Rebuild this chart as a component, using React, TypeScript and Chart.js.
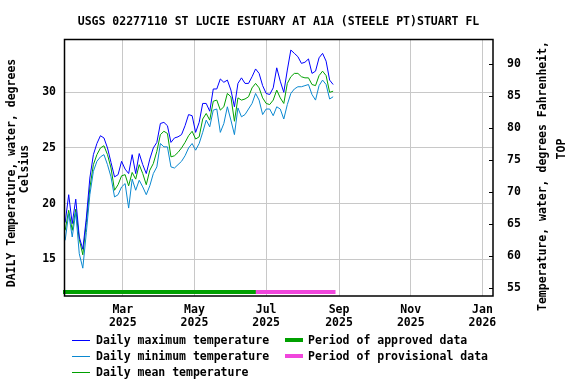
import React, { useEffect, useRef } from 'react';
import { Chart, registerables } from 'chart.js';

Chart.register(...registerables);

const FONT = '"DejaVu Sans Mono", "Liberation Mono", monospace';

const chartTitle = 'USGS 02277110 ST LUCIE ESTUARY AT A1A (STEELE PT)STUART FL';
const leftAxisTitle = ['DAILY Temperature, water, degrees', 'Celsius'];
const rightAxisTitle = ['Temperature, water, degrees Fahrenheit,', 'TOP'];

const axisStart = '2025-01-10';
const axisEnd = '2026-01-10';

const monthTicks = ['2025-03-01', '2025-05-01', '2025-07-01', '2025-09-01', '2025-11-01', '2026-01-01'];
const monthTickLabels = [
  ['Mar', '2025'],
  ['May', '2025'],
  ['Jul', '2025'],
  ['Sep', '2025'],
  ['Nov', '2025'],
  ['Jan', '2026'],
];
const celsiusTicks = [15, 20, 25, 30];
const fahrenheitTicks = [55, 60, 65, 70, 75, 80, 85, 90];

const sampleDates = [
  '2025-01-11', '2025-01-14', '2025-01-17', '2025-01-20', '2025-01-23', '2025-01-26', '2025-01-29',
  '2025-02-01', '2025-02-04', '2025-02-07', '2025-02-10', '2025-02-13', '2025-02-16', '2025-02-19',
  '2025-02-22', '2025-02-25', '2025-02-28', '2025-03-03', '2025-03-06', '2025-03-09', '2025-03-12',
  '2025-03-15', '2025-03-18', '2025-03-21', '2025-03-24', '2025-03-27', '2025-03-30', '2025-04-02',
  '2025-04-05', '2025-04-08', '2025-04-11', '2025-04-14', '2025-04-17', '2025-04-20', '2025-04-23',
  '2025-04-26', '2025-04-29', '2025-05-02', '2025-05-05', '2025-05-08', '2025-05-11', '2025-05-14',
  '2025-05-17', '2025-05-20', '2025-05-23', '2025-05-26', '2025-05-29', '2025-06-01', '2025-06-04',
  '2025-06-07', '2025-06-10', '2025-06-13', '2025-06-16', '2025-06-19', '2025-06-22', '2025-06-25',
  '2025-06-28', '2025-07-01', '2025-07-04', '2025-07-07', '2025-07-10', '2025-07-13', '2025-07-16',
  '2025-07-19', '2025-07-22', '2025-07-25', '2025-07-28', '2025-07-31', '2025-08-03', '2025-08-06',
  '2025-08-09', '2025-08-12', '2025-08-15', '2025-08-18', '2025-08-21', '2025-08-24', '2025-08-27',
];

const dailyMax = [
  18.3, 20.8, 18.2, 20.4, 17.0, 15.9, 18.7, 22.3, 24.4, 25.4,
  26.1, 25.9, 25.0, 23.7, 22.4, 22.6, 23.8, 23.1, 22.7, 24.4,
  22.7, 24.5, 23.5, 22.7, 24.0, 25.0, 25.5, 27.2, 27.3, 27.0,
  25.5, 25.9, 26.0, 26.2, 27.0, 28.0, 27.9, 26.4, 27.3, 29.0,
  29.0, 28.3, 30.3, 30.3, 31.2, 30.9, 31.1, 30.2, 28.7, 30.8,
  31.3, 30.8, 30.8, 31.4, 32.1, 31.7, 30.6, 29.9, 29.8, 30.4,
  32.2, 31.0, 30.0, 32.0, 33.8, 33.5, 33.2, 32.6, 32.7, 33.0,
  31.7, 31.9, 33.1, 33.5, 32.8, 31.1, 30.7,
];

const dailyMin = [
  16.7, 19.1, 17.0, 19.2, 15.5, 14.2, 17.4, 20.8, 22.9, 23.8,
  24.2, 24.4, 23.5, 22.4, 20.6, 20.8, 21.5, 21.8, 19.6, 22.2,
  21.2, 22.1, 21.5, 20.8, 21.6, 22.7, 23.3, 25.4, 25.1, 25.1,
  23.3, 23.2, 23.5, 23.8, 24.3, 25.0, 25.4, 24.8, 25.4, 26.4,
  27.5, 26.9, 28.4, 28.5, 26.4, 27.2, 28.7, 27.5, 26.2, 28.6,
  27.8, 28.0, 28.5, 29.0, 29.9, 29.3, 28.0, 28.5, 28.5, 27.9,
  28.7, 28.5, 27.6, 28.9, 29.9, 30.3, 30.5, 30.5, 30.6, 30.7,
  29.8, 29.3, 30.6, 31.1, 30.7, 29.4, 29.6,
];

const dailyMean = [
  17.6, 19.4, 17.6, 19.5, 16.8, 15.4, 18.3, 21.4, 23.5, 24.4,
  25.0, 25.2, 24.4, 23.2, 21.2, 21.7, 22.5, 22.6, 21.6, 22.8,
  22.2, 23.5, 22.7, 21.7, 23.0, 23.6, 24.7, 26.2, 26.5, 26.3,
  24.2, 24.3, 24.6, 25.0, 25.5, 26.1, 26.5, 25.8, 26.0, 27.6,
  28.1, 27.5, 29.2, 29.3, 28.4, 28.7, 29.9, 29.6, 27.4, 29.5,
  29.3, 29.4, 29.6, 30.4, 30.8, 30.4, 29.5, 29.0, 28.9, 29.3,
  30.2, 29.5, 29.0, 30.8, 31.4, 31.7, 31.7, 31.4, 31.3, 31.3,
  30.7, 30.6, 31.5, 31.9, 31.5, 30.0, 30.1,
];

const periodLabels = ['Period of approved data', 'Period of provisional data'];
const periodStarts = ['2025-01-10', '2025-06-23'];
const periodEnds = ['2025-06-23', '2025-08-29'];

const COLOR_MAX = '#0000ff';
const COLOR_MIN = '#0a88d0';
const COLOR_MEAN = '#00a000';
const PERIOD_COLORS = ['#00a000', '#f046dc'];

const toDay = (iso: string) =>
  (Date.UTC(+iso.slice(0, 4), +iso.slice(5, 7) - 1, +iso.slice(8, 10)) - Date.UTC(2025, 0, 1)) / 86400000;

const font = (size = 11.5) => `bold ${size}px ${FONT}`;

const decorPlugin = {
  id: 'decor',
  afterDatasetsDraw(chart: any) {
    const { ctx, chartArea: a, scales } = chart;
    const xs = scales.x;
    ctx.save();
    periodStarts.forEach((s, i) => {
      const x0 = xs.getPixelForValue(toDay(s));
      const x1 = xs.getPixelForValue(toDay(periodEnds[i]));
      ctx.fillStyle = PERIOD_COLORS[i];
      ctx.fillRect(x0 - 1, a.bottom - 6, x1 - x0 + 1, 4);
    });
    ctx.restore();
  },
  afterDraw(chart: any) {
    const { ctx, chartArea: a, scales, data } = chart;
    ctx.save();
    // frame
    ctx.strokeStyle = '#000';
    ctx.lineWidth = 1.5;
    ctx.strokeRect(a.left + 0.5, a.top + 0.5, a.right - a.left - 0.5, a.bottom - a.top - 0.5);
    // right inner tick marks
    ctx.lineWidth = 1;
    fahrenheitTicks.forEach((v) => {
      const y = Math.round(scales.y2.getPixelForValue(v)) + 0.5;
      ctx.beginPath();
      ctx.moveTo(a.right - 4, y);
      ctx.lineTo(a.right, y);
      ctx.stroke();
    });
    // axis titles
    ctx.fillStyle = '#000';
    ctx.font = font();
    ctx.textAlign = 'center';
    ctx.textBaseline = 'middle';
    const vtext = (t: string, x: number, y: number) => {
      ctx.save();
      ctx.translate(x, y);
      ctx.rotate(-Math.PI / 2);
      ctx.fillText(t, 0, 0);
      ctx.restore();
    };
    vtext(leftAxisTitle[0], 12, 173);
    vtext(leftAxisTitle[1], 25, 169);
    vtext(rightAxisTitle[0], 543, 176);
    vtext(rightAxisTitle[1], 562, 149);
    // legend
    ctx.textAlign = 'left';
    const rows = [341, 357, 373];
    data.datasets.forEach((ds: any, i: number) => {
      const y = rows[i];
      ctx.strokeStyle = ds.borderColor;
      ctx.lineWidth = 1;
      ctx.beginPath();
      ctx.moveTo(72, y - 0.5);
      ctx.lineTo(90, y - 0.5);
      ctx.stroke();
      ctx.fillStyle = '#000';
      ctx.fillText(ds.label, 96, y);
    });
    periodLabels.forEach((lab, i) => {
      const y = rows[i];
      ctx.fillStyle = PERIOD_COLORS[i];
      ctx.fillRect(285, y - 3, 18, 4);
      ctx.fillStyle = '#000';
      ctx.fillText(lab, 308, y);
    });
    ctx.restore();
  },
};

export default function App() {
  const canvasRef = useRef<HTMLCanvasElement | null>(null);

  useEffect(() => {
    document.body.style.margin = '0';
    const canvas = canvasRef.current;
    if (!canvas) return;
    const mk = (vals: number[]) => sampleDates.map((d, i) => ({ x: toDay(d), y: vals[i] }));
    const chart = new Chart(canvas, {
      type: 'line',
      data: {
        datasets: [
          { label: 'Daily maximum temperature', data: mk(dailyMax), borderColor: COLOR_MAX, borderWidth: 1, pointRadius: 0, tension: 0, yAxisID: 'y' },
          { label: 'Daily minimum temperature', data: mk(dailyMin), borderColor: COLOR_MIN, borderWidth: 1, pointRadius: 0, tension: 0, yAxisID: 'y' },
          { label: 'Daily mean temperature', data: mk(dailyMean), borderColor: COLOR_MEAN, borderWidth: 1, pointRadius: 0, tension: 0, yAxisID: 'y' },
        ],
      },
      options: {
        animation: false,
        responsive: false,
        events: [],
        layout: { padding: 0 },
        plugins: {
          legend: { display: false },
          tooltip: { enabled: false },
          title: {
            display: true,
            text: chartTitle,
            fullSize: false,
            color: '#000',
            font: { family: FONT, size: 11.5, weight: 'bold', lineHeight: 1.2 },
            padding: { top: 15, bottom: 10.2 },
          },
        },
        scales: {
          x: {
            type: 'linear',
            min: toDay(axisStart),
            max: toDay(axisEnd),
            afterFit: (s: any) => { s.height = 88; },
            afterBuildTicks: (s: any) => { s.ticks = monthTicks.map((m) => ({ value: toDay(m) })); },
            grid: { color: '#c8c8c8', lineWidth: 1, drawTicks: false },
            border: { display: false },
            ticks: {
              autoSkip: false,
              maxRotation: 0,
              padding: 8,
              color: '#000',
              font: { family: FONT, size: 11.5, weight: 'bold', lineHeight: 1.12 },
              callback: (v: any) => {
                const i = monthTicks.findIndex((m) => toDay(m) === v);
                return i >= 0 ? monthTickLabels[i] : '';
              },
            },
          },
          y: {
            type: 'linear',
            position: 'left',
            min: 11.7,
            max: 34.79,
            afterFit: (s: any) => { s.width = 64; },
            afterBuildTicks: (s: any) => { s.ticks = celsiusTicks.map((v) => ({ value: v })); },
            grid: { color: '#c8c8c8', lineWidth: 1, drawTicks: false },
            border: { display: false },
            ticks: {
              padding: 8,
              color: '#000',
              font: { family: FONT, size: 11.5, weight: 'bold' },
            },
          },
          y2: {
            type: 'linear',
            position: 'right',
            min: 53.8,
            max: 93.95,
            afterFit: (s: any) => { s.width = 83; },
            afterBuildTicks: (s: any) => { s.ticks = fahrenheitTicks.map((v) => ({ value: v })); },
            grid: { drawOnChartArea: false, drawTicks: false },
            border: { display: false },
            ticks: {
              padding: 14,
              color: '#000',
              font: { family: FONT, size: 11.5, weight: 'bold' },
            },
          },
        },
      },
      plugins: [decorPlugin],
    } as any);
    return () => chart.destroy();
  }, []);

  return (
    <div style={{ position: 'absolute', left: 0, top: 0, width: 576, height: 384, background: '#fff' }}>
      <canvas ref={canvasRef} width={576} height={384} />
    </div>
  );
}
